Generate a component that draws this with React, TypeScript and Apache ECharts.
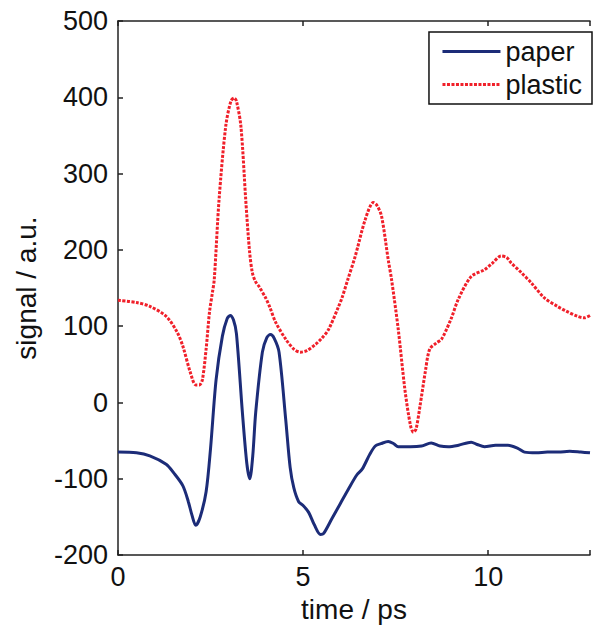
import React, { useEffect, useRef } from "react";
import * as echarts from "echarts";

const xTicks = [0, 5, 10];
const yTickMin = -200;
const yTickMax = 500;

const paperTime = [
  0, 0.5, 0.86, 1.3, 1.5, 1.75, 1.9, 2.0, 2.1, 2.22, 2.38, 2.5, 2.65, 2.82, 2.95, 3.03, 3.12, 3.2,
  3.36, 3.48, 3.56, 3.64, 3.72, 3.9, 4.02, 4.12, 4.22, 4.35, 4.53, 4.65, 4.75, 4.88, 5.0, 5.15,
  5.3, 5.47, 5.55, 5.78, 6.0, 6.23, 6.45, 6.6, 6.8, 6.95, 7.1, 7.3, 7.45, 7.57, 7.9, 8.2, 8.46,
  8.7, 8.92, 9.2, 9.54, 9.7, 9.9, 10.2, 10.53, 10.8, 10.98, 11.3, 11.6, 11.9, 12.2, 12.5, 12.75,
];
const paperSignal = [
  -65, -66, -70, -81, -92, -109, -130, -148, -161, -150, -117, -60, 30, 87, 110, 114, 108, 90,
  -13, -80, -100, -70, -13, 66, 85, 89, 84, 66, -22, -85, -112, -130, -135, -144,
  -160, -173, -172, -152, -133, -113, -95, -87, -68, -57, -54, -51, -54, -58, -58, -57, -53,
  -57, -58, -56, -52, -55, -58, -56, -56, -60, -65, -66, -65, -65, -64, -65, -66,
];

const plasticTime = [
  0, 0.5, 0.86, 1.3, 1.6, 1.75, 1.95, 2.1, 2.2, 2.28, 2.38, 2.47, 2.55, 2.6, 2.73, 2.91, 3.05,
  3.14, 3.2, 3.32, 3.45, 3.55, 3.63, 3.72, 3.81, 3.99, 4.1, 4.26, 4.53, 4.75, 4.93, 5.1, 5.33,
  5.5, 5.69, 5.96, 6.05, 6.2, 6.41, 6.68, 6.9, 7.0, 7.12, 7.3, 7.39, 7.57, 7.75, 7.9, 7.98,
  8.05, 8.16, 8.3, 8.42, 8.6, 8.74, 9.0, 9.19, 9.54, 9.9, 10.1, 10.35, 10.5, 10.62, 10.9,
  11.16, 11.52, 11.87, 12.1, 12.41, 12.6, 12.75,
];
const plasticSignal = [
  134, 131, 126, 113, 92, 74, 40, 23, 23, 30, 70, 118, 144, 161, 266, 362, 395,
  399, 395, 362, 266, 200, 170, 158, 152, 137, 125, 105, 83, 70, 66, 68, 76,
  84, 96, 126, 137, 160, 192, 240, 262, 258, 244, 187, 161, 96, 17, -30, -39,
  -35, -4, 40, 70, 78, 83, 110, 135, 165, 174, 182, 192, 190, 183, 170,
  157, 137, 126, 120, 113, 111, 114,
];

const FONT = "'Liberation Sans', Arial, Helvetica, sans-serif";
const TEXT = "#111";
const AXIS = "#222";

export default function App() {
  const ref = useRef<HTMLDivElement>(null);
  useEffect(() => {
    document.body.style.margin = "0";
    if (!ref.current) return;
    const chart = echarts.init(ref.current, undefined, { renderer: "svg" });
    const zip = (t: number[], v: number[]) => t.map((x, i) => [x, v[i]]);
    const fmtX = (v: number) => (xTicks.includes(v) ? String(v) : "");
    const xCommon = {
      type: "value" as const,
      min: 0,
      max: 12.75,
      interval: 5,
      splitLine: { show: false },
      axisLine: { show: true, onZero: false, lineStyle: { color: AXIS, width: 1.5 } },
      axisTick: { inside: true, length: 5, lineStyle: { color: AXIS, width: 1.5 } },
    };
    chart.setOption({
      animation: false,
      textStyle: { fontFamily: FONT },
      grid: { left: 118, top: 21, right: 0, bottom: 72 },
      legend: {
        orient: "vertical",
        right: 1,
        top: 32,
        itemWidth: 58,
        itemHeight: 14,
        itemGap: 6,
        padding: [6, 10, 6, 12],
        borderColor: "#111",
        borderWidth: 1.5,
        backgroundColor: "#fff",
        itemStyle: { opacity: 0 },
        lineStyle: { width: 3 },
        textStyle: { fontSize: 27, color: TEXT, fontFamily: FONT },
        data: ["paper", "plastic"],
      },
      xAxis: [
        {
          ...xCommon,
          position: "bottom",
          name: "time / ps",
          nameLocation: "middle",
          nameGap: 38,
          nameTextStyle: { fontSize: 28, color: TEXT, fontFamily: FONT },
          axisLabel: {
            fontSize: 27,
            color: TEXT,
            margin: 8,
            fontFamily: FONT,
            formatter: fmtX,
          },
        },
        {
          ...xCommon,
          position: "top",
          axisLabel: { show: false },
        },
      ],
      yAxis: {
        type: "value",
        min: yTickMin,
        max: yTickMax,
        interval: 100,
        name: "signal / a.u.",
        nameLocation: "middle",
        nameGap: 78,
        nameTextStyle: { fontSize: 28, color: TEXT, fontFamily: FONT },
        splitLine: { show: false },
        axisLine: { show: true, onZero: false, lineStyle: { color: AXIS, width: 1.5 } },
        axisTick: { inside: true, length: 5, lineStyle: { color: AXIS, width: 1.5 } },
        axisLabel: { fontSize: 27, color: TEXT, margin: 10, fontFamily: FONT },
      },
      series: [
        {
          name: "paper",
          type: "line",
          xAxisIndex: 0,
          symbol: "none",
          smooth: 0.3,
          data: zip(paperTime, paperSignal),
          lineStyle: { color: "#1c2c78", width: 3 },
          itemStyle: { color: "#1c2c78" },
        },
        {
          name: "plastic",
          type: "line",
          xAxisIndex: 0,
          symbol: "none",
          smooth: 0.3,
          data: zip(plasticTime, plasticSignal),
          lineStyle: { color: "#f0202a", width: 3, type: [3, 1.5] },
          itemStyle: { color: "#f0202a" },
        },
      ],
    });
    return () => chart.dispose();
  }, []);
  return <div ref={ref} style={{ width: 593, height: 628 }} />;
}
